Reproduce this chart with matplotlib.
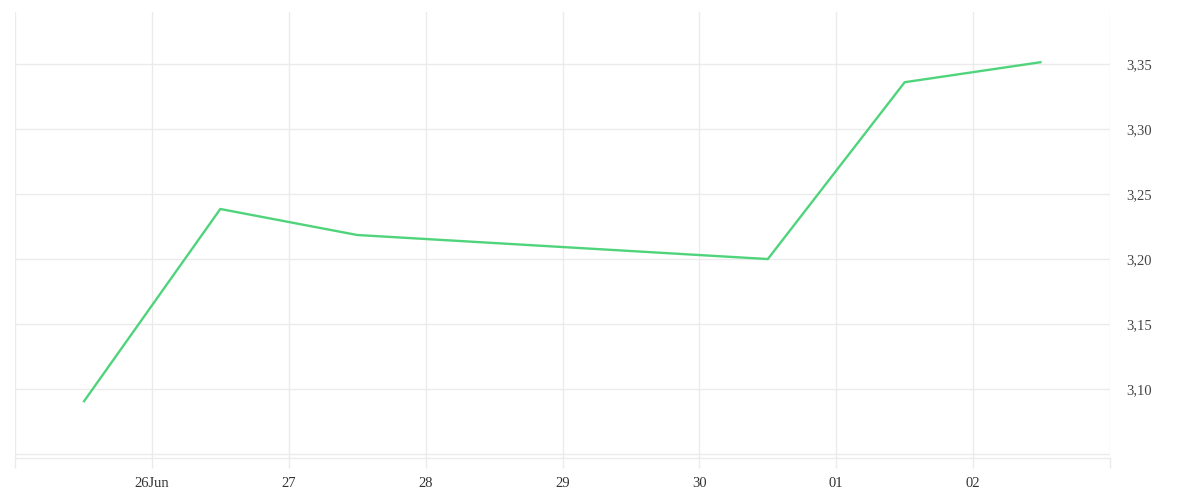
import matplotlib
matplotlib.use("Agg")
import matplotlib.pyplot as plt
from datetime import datetime, timedelta

dates = ["2024-06-25 12:00", "2024-06-26 12:00", "2024-06-27 12:00",
         "2024-06-30 12:00", "2024-07-01 12:00", "2024-07-02 12:00"]
values = [3.090, 3.2385, 3.2185, 3.200, 3.336, 3.3515]
y_ticks = [3.05, 3.10, 3.15, 3.20, 3.25, 3.30, 3.35]
y_labels = ["", "3,10", "3,15", "3,20", "3,25", "3,30", "3,35"]

x = [datetime.strptime(d, "%Y-%m-%d %H:%M") for d in dates]

plt.rcParams['font.family'] = ['Liberation Serif', 'DejaVu Serif']
fig = plt.figure(figsize=(12, 5), dpi=100)
ax = fig.add_axes([0.0125, 0.084, 0.9125, 0.892])

grid_c = "#ebebeb"
ax.plot(x, values, color="#4fd47c", linewidth=1.7, solid_capstyle="butt", zorder=3)

xstart = datetime(2024, 6, 25)
xend = datetime(2024, 7, 3)
ax.set_xlim(xstart, xend)
ax.set_ylim(3.047, 3.39)

xt = [xstart + timedelta(days=i) for i in range(9)]
ax.set_xticks(xt)
xl = []
for i, d in enumerate(xt):
    if i == 0 or i == len(xt) - 1:
        xl.append("")
    elif i == 1:
        xl.append(d.strftime("%d%b"))
    else:
        xl.append(d.strftime("%d"))
ax.set_xticklabels(xl)

ax.set_yticks(y_ticks)
ax.set_yticklabels(y_labels)
ax.yaxis.tick_right()

ax.grid(True, color=grid_c, linewidth=1)
ax.tick_params(axis="x", length=7.5, color=grid_c, width=1, labelsize=10.5,
               labelcolor="#333333", pad=6)
ax.tick_params(axis="y", length=0, labelsize=10.5, labelcolor="#444444", pad=12)

for s in ["top", "left", "right"]:
    ax.spines[s].set_visible(False)
ax.spines["bottom"].set_color(grid_c)
ax.spines["bottom"].set_linewidth(1)

fig.savefig("out.png", dpi=100)
